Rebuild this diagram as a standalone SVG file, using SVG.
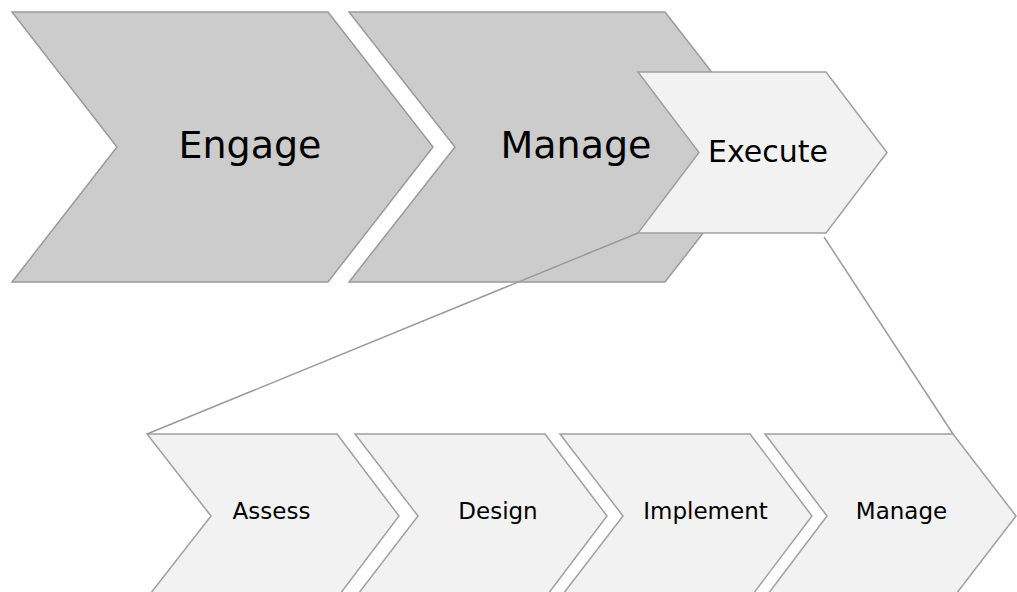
<svg xmlns="http://www.w3.org/2000/svg" width="1017" height="592" viewBox="0 0 1017 592">
<style>
.big{fill:#cccccc;stroke:#9a9a9a;stroke-width:1.5}
.small{fill:#f2f2f2;stroke:#a0a0a0;stroke-width:1.5}
.conn{fill:none;stroke:#9a9a9a;stroke-width:1.5}
text{font-family:"DejaVu Sans","Verdana",sans-serif;fill:#000;text-anchor:middle}
</style>
<rect width="1017" height="592" fill="#ffffff"/>
<g id="engage">
<polygon class="big" points="12,12 328,12 433,147 328,282 12,282 117,147"/>
<text x="250" y="158" font-size="38">Engage</text>
</g>
<g id="manage-top">
<polygon class="big" points="349,12 665,12 770,147 665,282 349,282 455,147"/>
<text x="576" y="158" font-size="38">Manage</text>
</g>
<g id="execute">
<polygon class="small" points="638,72 826,72 887,152.5 826,233 638,233 699,152.5"/>
<text x="768" y="162" font-size="30">Execute</text>
</g>
<g id="connectors">
<line class="conn" x1="638" y1="233" x2="147" y2="434"/>
<line class="conn" x1="824" y1="237" x2="953" y2="434"/>
</g>
<g id="assess">
<polygon class="small" points="147,434 337,434 399,516 337,598 147,598 211,516"/>
<text x="271.5" y="519" font-size="23">Assess</text>
</g>
<g id="design">
<polygon class="small" points="355,434 545,434 607,516 545,598 355,598 418,516"/>
<text x="498" y="519" font-size="23">Design</text>
</g>
<g id="implement">
<polygon class="small" points="560,434 750,434 812,516 750,598 560,598 623,516"/>
<text x="705.5" y="519" font-size="23">Implement</text>
</g>
<g id="manage-bottom">
<polygon class="small" points="765,434 953,434 1016,516 953,598 765,598 827,516"/>
<text x="901.5" y="519" font-size="23">Manage</text>
</g>
</svg>
